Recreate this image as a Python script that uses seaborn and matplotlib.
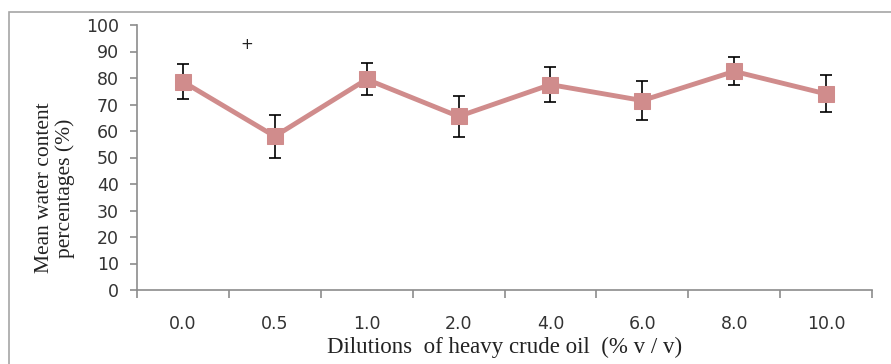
import matplotlib
matplotlib.use("Agg")
import matplotlib.pyplot as plt
import seaborn as sns
import numpy as np
import pandas as pd
from matplotlib.patches import Rectangle

# data
dilutions = ["0.0", "0.5", "1.0", "2.0", "4.0", "6.0", "8.0", "10.0"]
water_mean = [78.6, 58.0, 79.5, 65.5, 77.5, 71.5, 82.5, 74.0]
water_err = [6.5, 8.0, 6.0, 7.8, 6.5, 7.3, 5.3, 7.0]

sns.set_theme(style="white")
plt.rcParams['font.family'] = ['DejaVu Sans']
plt.rcParams['font.sans-serif'] = ['DejaVu Sans']

line_color = "#D08C8C"
axis_color = "#8C8C8C"

df = pd.DataFrame({"dilution": dilutions, "water": water_mean})

fig = plt.figure(figsize=(8.91, 3.64), dpi=100)
ax = fig.add_axes([137 / 891, 1 - 290 / 364, (872 - 137) / 891, (290 - 25) / 364])

# outer frame (top and left edge visible in the reference)
fig.patches.append(Rectangle((9 / 891, -0.1), 1.2, 1.1 - 12 / 364,
                             transform=fig.transFigure, fill=False,
                             edgecolor="#A6A6A6", linewidth=1.2))

pos = np.arange(len(dilutions))
ax.errorbar(pos, water_mean, yerr=water_err, fmt="none", ecolor="black",
            elinewidth=1.2, capsize=4, capthick=1.2, zorder=2)
sns.lineplot(data=df, x=pos, y="water", ax=ax, color=line_color,
             linewidth=3.5, marker="s", markersize=11,
             markeredgecolor=line_color, zorder=3, sort=False)

ax.text(0.70, 92.5, "+", ha="center", va="center", fontsize=11,
        color="#222222")

ax.set_xlim(-0.5, len(dilutions) - 0.5)
ax.set_ylim(0, 100)
ax.set_yticks(np.arange(0, 101, 10))
ax.set_xticks(pos)
ax.set_xticklabels(dilutions)
ax.set_xticks(np.arange(-0.5, len(dilutions), 1), minor=True)

for side in ["top", "right"]:
    ax.spines[side].set_visible(False)
for side in ["left", "bottom"]:
    ax.spines[side].set_color(axis_color)
    ax.spines[side].set_linewidth(1.2)

ax.tick_params(axis="x", which="major", length=0, pad=18,
               labelsize=12.5, labelcolor="#333333")
ax.tick_params(axis="x", which="minor", bottom=True, length=6,
               width=1.2, color=axis_color)
ax.tick_params(axis="y", which="major", left=True, length=5, width=1.2,
               color=axis_color, pad=8, labelsize=12.5,
               labelcolor="#333333")
for lab in ax.get_xticklabels() + ax.get_yticklabels():
    lab.set_fontfamily("DejaVu Sans")

ax.set_ylabel("Mean water content\npercentages (%)",
              family="Liberation Serif", fontsize=15.5, color="#222222",
              linespacing=1.05)
ax.yaxis.set_label_coords(-0.085, 0.385)
ax.set_xlabel("Dilutions  of heavy crude oil  (% v / v)",
              family="Liberation Serif", fontsize=16.5, color="#222222",
              labelpad=3)

fig.savefig("out.png", dpi=100)
